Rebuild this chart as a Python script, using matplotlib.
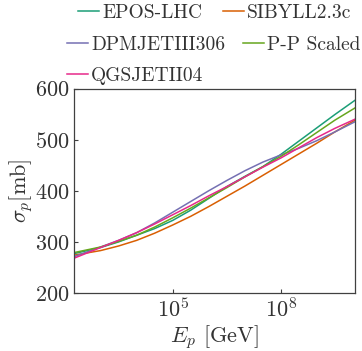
import numpy as np
import matplotlib
matplotlib.use("Agg")
import matplotlib.pyplot as plt
from matplotlib.ticker import NullLocator

plt.rcParams['font.family'] = 'serif'
plt.rcParams['font.serif'] = ['cmr10', 'DejaVu Serif']
plt.rcParams['mathtext.fontset'] = 'cm'
plt.rcParams['axes.formatter.use_mathtext'] = True
plt.rcParams['text.color'] = '#333333'
plt.rcParams['axes.labelcolor'] = '#333333'
plt.rcParams['xtick.color'] = '#404040'
plt.rcParams['ytick.color'] = '#404040'
plt.rcParams['xtick.labelcolor'] = '#333333'
plt.rcParams['ytick.labelcolor'] = '#333333'

# log10(E_p / GeV)
log_E = [2.26, 3.0, 3.5, 4.0, 4.5, 5.0, 5.5, 6.0, 6.5, 7.0, 7.5, 8.0, 8.5, 9.0, 9.5, 10.06]

epos   = [277, 289, 300, 313, 326, 342, 362, 385, 408, 428, 447, 471, 497, 523, 549, 577]
sibyll = [274, 283, 292, 303, 317, 333, 350, 369, 389, 409, 430, 451, 472, 493, 515, 538]
dpmjet = [271, 290, 303, 318, 337, 358, 379, 400, 420, 439, 456, 470, 483, 498, 515, 535]
pp     = [279, 290, 301, 313, 329, 347, 366, 386, 406, 427, 447, 467, 490, 514, 538, 562]
qgs    = [268, 289, 303, 318, 335, 353, 371, 390, 408, 427, 446, 464, 484, 504, 522, 540]

names = ["EPOS-LHC", "SIBYLL2.3c", "DPMJETIII306", "P-P Scaled", "QGSJETII04"]
colors = ["#1b9e77", "#d95f02", "#7570b3", "#66a61e", "#e7298a"]
series = [epos, sibyll, dpmjet, pp, qgs]

y_ticks = [200, 300, 400, 500, 600]
x_ticks = [1e5, 1e8]

W, H = 362, 351
fig = plt.figure(figsize=(W / 100, H / 100), dpi=100)
ax = fig.add_axes([74 / W, 1 - 293 / H, (355 - 74) / W, (293 - 88.5) / H])

E = 10 ** np.array(log_E)
handles = []
for name, c, s in zip(names, colors, series):
    h, = ax.plot(E, s, color=c, lw=1.1, label=name)
    handles.append(h)

ax.set_xscale('log')
ax.set_xlim(E[0], E[-1])
ax.set_ylim(200, 600)
ax.set_xticks(x_ticks)
ax.xaxis.set_minor_locator(NullLocator())
ax.set_yticks(y_ticks)
ax.tick_params(direction='in', length=3, width=0.8, labelsize=16, pad=3)
for sp in ax.spines.values():
    sp.set_color('#404040')
    sp.set_linewidth(0.9)

ax.set_xlabel(r'$E_p$ [GeV]', fontsize=16, labelpad=1)
ax.set_ylabel(r'$\sigma_p$[mb]', fontsize=16, labelpad=0)

# legend entries placed like the reference (left edge of handle, row centre)
entry_pos = [(78, 13), (223, 13), (67, 45), (243, 45), (67, 76)]
leg_kw = dict(frameon=False, fontsize=14, handlelength=1.1, handletextpad=0.15,
              borderpad=0, borderaxespad=0, loc='center left')
for i, (xpx, ypx) in enumerate(entry_pos):
    leg = fig.legend([handles[i]], [names[i]],
                     bbox_to_anchor=(xpx / W, 1 - ypx / H),
                     bbox_transform=fig.transFigure, **leg_kw)
    for t in leg.get_texts():
        t.set_color('#333333')

fig.savefig("out.png", dpi=100)
